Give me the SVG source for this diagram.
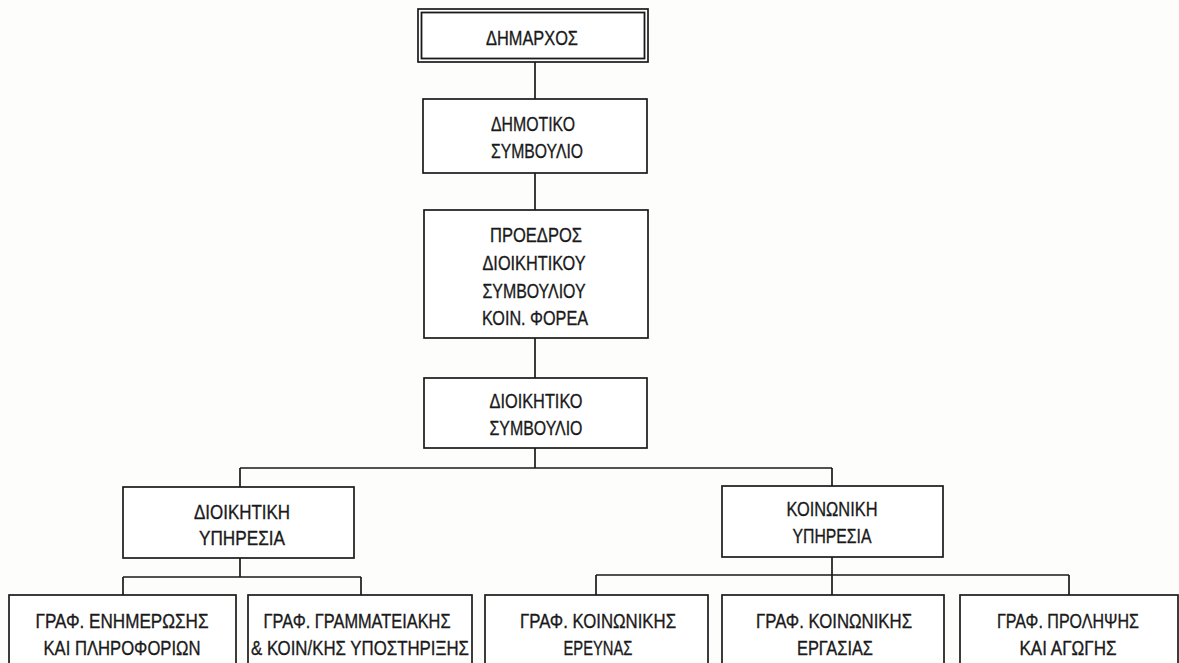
<svg xmlns="http://www.w3.org/2000/svg" width="1179" height="663" viewBox="0 0 1179 663">
<style>
.box{fill:#fff;stroke:#1a1a1a;stroke-width:1.7}
.bx2{fill:none;stroke:#1a1a1a;stroke-width:1.8}
.ln{fill:none;stroke:#1a1a1a;stroke-width:1.7}
text{font-family:"Liberation Sans",Arial,sans-serif;font-size:21px;fill:#1a1a1a;stroke:#1a1a1a;stroke-width:0.35;text-anchor:middle}
</style>
<rect width="1179" height="663" fill="#fdfdfb"/>
<g id="connectors">
<path class="ln" d="M535 62V99M535 173V210M535 338V378M535 448V468M240 468H832M240 468V487M832 468V486"/>
<path class="ln" d="M240 558V577M123 577H361M123 577V595M361 577V595"/>
<path class="ln" d="M832 557V575M596 575H1069M596 575V595M832 575V595M1069 575V595"/>
</g>
<g id="n-dimarchos">
<rect class="box" x="418" y="9" width="230" height="53" stroke-width="2.4"/>
<rect class="bx2" x="421.5" y="12.5" width="223" height="46"/>
<text x="532" y="45" textLength="92" lengthAdjust="spacingAndGlyphs">ΔΗΜΑΡΧΟΣ</text>
</g>
<g id="n-dimotiko">
<rect class="box" x="423" y="99" width="224" height="74"/>
<text x="533" y="131" textLength="84" lengthAdjust="spacingAndGlyphs">ΔΗΜΟΤΙΚΟ</text>
<text x="537" y="158" textLength="92" lengthAdjust="spacingAndGlyphs">ΣΥΜΒΟΥΛΙΟ</text>
</g>
<g id="n-proedros">
<rect class="box" x="424" y="210" width="224" height="128"/>
<text x="536" y="242" textLength="92" lengthAdjust="spacingAndGlyphs">ΠΡΟΕΔΡΟΣ</text>
<text x="534" y="270" textLength="103" lengthAdjust="spacingAndGlyphs">ΔΙΟΙΚΗΤΙΚΟΥ</text>
<text x="534" y="298" textLength="103" lengthAdjust="spacingAndGlyphs">ΣΥΜΒΟΥΛΙΟΥ</text>
<text x="535" y="325" textLength="106" lengthAdjust="spacingAndGlyphs">ΚΟΙΝ. ΦΟΡΕΑ</text>
</g>
<g id="n-dioikitiko">
<rect class="box" x="424" y="378" width="223" height="70"/>
<text x="536" y="408" textLength="93" lengthAdjust="spacingAndGlyphs">ΔΙΟΙΚΗΤΙΚΟ</text>
<text x="536" y="435" textLength="93" lengthAdjust="spacingAndGlyphs">ΣΥΜΒΟΥΛΙΟ</text>
</g>
<g id="n-dioikitiki">
<rect class="box" x="123" y="487" width="231" height="71"/>
<text x="242" y="519" textLength="96" lengthAdjust="spacingAndGlyphs">ΔΙΟΙΚΗΤΙΚΗ</text>
<text x="242" y="545" textLength="86" lengthAdjust="spacingAndGlyphs">ΥΠΗΡΕΣΙΑ</text>
</g>
<g id="n-koinoniki">
<rect class="box" x="722" y="486" width="221" height="71"/>
<text x="832" y="516" textLength="91" lengthAdjust="spacingAndGlyphs">ΚΟΙΝΩΝΙΚΗ</text>
<text x="832" y="543" textLength="79" lengthAdjust="spacingAndGlyphs">ΥΠΗΡΕΣΙΑ</text>
</g>
<g id="n-enimerosis">
<rect class="box" x="9" y="595" width="227" height="90"/>
<text x="122" y="628" textLength="173" lengthAdjust="spacingAndGlyphs">ΓΡΑΦ. ΕΝΗΜΕΡΩΣΗΣ</text>
<text x="122" y="655" textLength="157" lengthAdjust="spacingAndGlyphs">ΚΑΙ ΠΛΗΡΟΦΟΡΙΩΝ</text>
</g>
<g id="n-grammateiakis">
<rect class="box" x="248" y="595" width="224" height="90"/>
<text x="357" y="628" textLength="187" lengthAdjust="spacingAndGlyphs">ΓΡΑΦ. ΓΡΑΜΜΑΤΕΙΑΚΗΣ</text>
<text x="360" y="655" textLength="218" lengthAdjust="spacingAndGlyphs">&amp; ΚΟΙΝ/ΚΗΣ ΥΠΟΣΤΗΡΙΞΗΣ</text>
</g>
<g id="n-ereynas">
<rect class="box" x="485" y="595" width="223" height="90"/>
<text x="598" y="628" textLength="156" lengthAdjust="spacingAndGlyphs">ΓΡΑΦ. ΚΟΙΝΩΝΙΚΗΣ</text>
<text x="598" y="655" textLength="69" lengthAdjust="spacingAndGlyphs">ΕΡΕΥΝΑΣ</text>
</g>
<g id="n-ergasias">
<rect class="box" x="722" y="595" width="222" height="90"/>
<text x="834" y="628" textLength="156" lengthAdjust="spacingAndGlyphs">ΓΡΑΦ. ΚΟΙΝΩΝΙΚΗΣ</text>
<text x="835" y="655" textLength="76" lengthAdjust="spacingAndGlyphs">ΕΡΓΑΣΙΑΣ</text>
</g>
<g id="n-prolipsis">
<rect class="box" x="960" y="595" width="218" height="90"/>
<text x="1068" y="628" textLength="142" lengthAdjust="spacingAndGlyphs">ΓΡΑΦ. ΠΡΟΛΗΨΗΣ</text>
<text x="1068" y="655" textLength="97" lengthAdjust="spacingAndGlyphs">ΚΑΙ ΑΓΩΓΗΣ</text>
</g>
</svg>
